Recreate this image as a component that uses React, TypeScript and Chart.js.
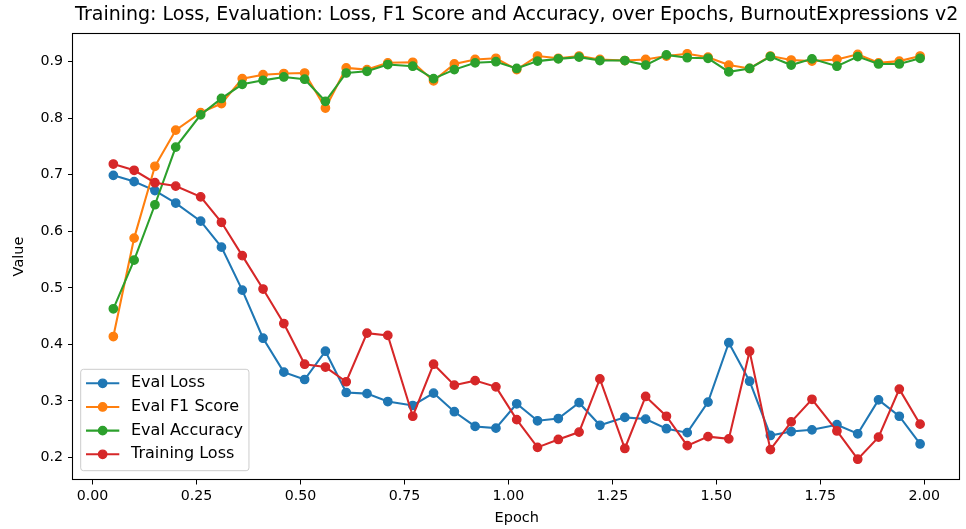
import React, { useEffect, useRef } from "react";
import { Chart, registerables } from "chart.js";

Chart.register(...registerables);

const titleText =
  "Training: Loss, Evaluation: Loss, F1 Score and Accuracy, over Epochs, BurnoutExpressions v2";
const xAxisLabel = "Epoch";
const yAxisLabel = "Value";

const epochs = [
  0.05, 0.1, 0.15, 0.2, 0.26, 0.31, 0.36, 0.41, 0.46, 0.51, 0.56, 0.61, 0.66,
  0.71, 0.77, 0.82, 0.87, 0.92, 0.97, 1.02, 1.07, 1.12, 1.17, 1.22, 1.28, 1.33,
  1.38, 1.43, 1.48, 1.53, 1.58, 1.63, 1.68, 1.73, 1.79, 1.84, 1.89, 1.94, 1.99,
];

const evalLoss = [
  0.699, 0.688, 0.672, 0.65, 0.618, 0.572, 0.496, 0.411, 0.351, 0.338, 0.388,
  0.315, 0.313, 0.299, 0.292, 0.314, 0.281, 0.255, 0.252, 0.295, 0.265, 0.269,
  0.297, 0.257, 0.271, 0.268, 0.251, 0.244, 0.298, 0.403, 0.335, 0.239, 0.246,
  0.249, 0.258, 0.242, 0.302, 0.273, 0.224,
];

const evalF1 = [
  0.414, 0.588, 0.715, 0.779, 0.81, 0.826, 0.87, 0.877, 0.879, 0.88, 0.818,
  0.889, 0.886, 0.898, 0.899, 0.866, 0.896, 0.904, 0.906, 0.886, 0.91, 0.906,
  0.91, 0.904, 0.902, 0.904, 0.91, 0.914, 0.908, 0.894, 0.888, 0.91, 0.903,
  0.901, 0.904, 0.913, 0.898, 0.901, 0.91,
];

const evalAccuracy = [
  0.463, 0.549, 0.647, 0.749, 0.806, 0.835, 0.86, 0.867, 0.873, 0.869, 0.83,
  0.88, 0.883, 0.895, 0.892, 0.87, 0.886, 0.898, 0.9, 0.888, 0.901, 0.905,
  0.908, 0.902, 0.902, 0.894, 0.912, 0.907, 0.906, 0.882, 0.888, 0.909, 0.894,
  0.905, 0.892, 0.909, 0.896, 0.896, 0.906,
];

const trainingLoss = [
  0.719, 0.708, 0.686, 0.68, 0.661, 0.616, 0.557, 0.498, 0.437, 0.365, 0.36,
  0.334, 0.42, 0.416, 0.273, 0.365, 0.328, 0.336, 0.325, 0.267, 0.218, 0.232,
  0.245, 0.339, 0.216, 0.308, 0.273, 0.221, 0.237, 0.233, 0.388, 0.214, 0.263,
  0.303, 0.247, 0.197, 0.236, 0.321, 0.259,
];

const seriesLabels = ["Eval Loss", "Eval F1 Score", "Eval Accuracy", "Training Loss"];
const seriesColors = ["#1f77b4", "#ff7f0e", "#2ca02c", "#d62728"];

const xTicks = [0, 0.25, 0.5, 0.75, 1.0, 1.25, 1.5, 1.75, 2.0];
const yTicks = [0.2, 0.3, 0.4, 0.5, 0.6, 0.7, 0.8, 0.9];

const FONT = "DejaVu Sans";
const TICK_SIZE = 14.2;
const LABEL_SIZE = 14.5;
const LEGEND_SIZE = 16;
const TITLE_SIZE = 19;
const LINE_W = 2.08;
const MARKER_R = 4.17;
const MARKER_EDGE = 1.39;

const framePlugin = {
  id: "mplFrame",
  afterDatasetsDraw(chart: any) {
    const { ctx, chartArea } = chart;
    const l = Math.round(chartArea.left) - 0.5;
    const t = Math.round(chartArea.top) - 0.5;
    const r = Math.round(chartArea.right) - 0.5;
    const b = Math.round(chartArea.bottom) - 0.5;
    ctx.save();
    ctx.strokeStyle = "#000";
    ctx.lineWidth = 1.1;
    ctx.strokeRect(l, t, r - l, b - t);
    ctx.restore();
  },
};

const legendPlugin = {
  id: "mplLegend",
  afterDraw(chart: any) {
    const { ctx, chartArea } = chart;
    const ds = chart.data.datasets;
    ctx.save();
    ctx.font = `${LEGEND_SIZE}px "${FONT}"`;
    let maxW = 0;
    ds.forEach((d: any) => {
      maxW = Math.max(maxW, ctx.measureText(d.label).width);
    });
    const rowPitch = 23.67;
    const boxH = 101.4;
    const boxX = chartArea.left + 7.7;
    const boxY = chartArea.bottom - 8.8 - boxH;
    const handleX0 = boxX + 5.3;
    const handleX1 = handleX0 + 33.3;
    const textX = boxX + 50.3;
    const boxW = textX - boxX + maxW + 6;
    const rad = 2.8;
    ctx.beginPath();
    ctx.moveTo(boxX + rad, boxY);
    ctx.lineTo(boxX + boxW - rad, boxY);
    ctx.quadraticCurveTo(boxX + boxW, boxY, boxX + boxW, boxY + rad);
    ctx.lineTo(boxX + boxW, boxY + boxH - rad);
    ctx.quadraticCurveTo(boxX + boxW, boxY + boxH, boxX + boxW - rad, boxY + boxH);
    ctx.lineTo(boxX + rad, boxY + boxH);
    ctx.quadraticCurveTo(boxX, boxY + boxH, boxX, boxY + boxH - rad);
    ctx.lineTo(boxX, boxY + rad);
    ctx.quadraticCurveTo(boxX, boxY, boxX + rad, boxY);
    ctx.closePath();
    ctx.fillStyle = "rgba(255,255,255,0.8)";
    ctx.fill();
    ctx.strokeStyle = "#cccccc";
    ctx.lineWidth = 1;
    ctx.stroke();

    ds.forEach((d: any, i: number) => {
      const cy = boxY + 14 + i * rowPitch;
      ctx.strokeStyle = d.borderColor;
      ctx.lineWidth = LINE_W;
      ctx.beginPath();
      ctx.moveTo(handleX0, cy);
      ctx.lineTo(handleX1, cy);
      ctx.stroke();
      ctx.beginPath();
      ctx.arc((handleX0 + handleX1) / 2, cy, MARKER_R, 0, Math.PI * 2);
      ctx.fillStyle = d.borderColor;
      ctx.fill();
      ctx.lineWidth = MARKER_EDGE;
      ctx.stroke();
      ctx.fillStyle = "#000";
      ctx.textAlign = "left";
      ctx.textBaseline = "middle";
      ctx.fillText(d.label, textX, cy);
    });
    ctx.restore();
  },
};

export default function App() {
  const ref = useRef<HTMLCanvasElement>(null);

  useEffect(() => {
    document.body.style.margin = "0";
    const canvas = ref.current;
    if (!canvas) return;

    const series = [evalLoss, evalF1, evalAccuracy, trainingLoss];
    const xMinD = Math.min(...epochs);
    const xMaxD = Math.max(...epochs);
    const xPad = (xMaxD - xMinD) * 0.05;
    const allY = series.flat();
    const yMinD = Math.min(...allY);
    const yMaxD = Math.max(...allY);
    const yPad = (yMaxD - yMinD) * 0.05;

    const datasets = series.map((vals, i) => ({
      label: seriesLabels[i],
      data: epochs.map((x, j) => ({ x, y: vals[j] })),
      borderColor: seriesColors[i],
      backgroundColor: seriesColors[i],
      pointBackgroundColor: seriesColors[i],
      pointBorderColor: seriesColors[i],
      borderWidth: LINE_W,
      pointRadius: MARKER_R,
      pointHoverRadius: MARKER_R,
      pointBorderWidth: MARKER_EDGE,
      tension: 0,
      fill: false,
      order: series.length - 1 - i,
    }));

    const chart = new Chart(canvas, {
      type: "line",
      data: { datasets },
      plugins: [framePlugin, legendPlugin],
      options: {
        animation: false,
        responsive: false,
        events: [],
        layout: { padding: { left: 0, right: 2, top: 0, bottom: 0 } },
        plugins: {
          legend: { display: false },
          tooltip: { enabled: false },
          title: {
            display: true,
            fullSize: false,
            text: titleText,
            color: "#000",
            font: { family: FONT, size: TITLE_SIZE, weight: "normal", lineHeight: 1.2 },
            padding: { top: 3.7, bottom: 7.0 },
          },
        },
        scales: {
          x: {
            type: "linear",
            min: xMinD - xPad,
            max: xMaxD + xPad,
            afterBuildTicks: (scale: any) => {
              scale.ticks = xTicks.map((v) => ({ value: v }));
            },
            afterFit: (scale: any) => {
              scale.height = 49.5;
            },
            ticks: {
              color: "#000",
              font: { family: FONT, size: TICK_SIZE },
              padding: 3.5,
              maxRotation: 0,
              autoSkip: false,
              callback: (v: any) => Number(v).toFixed(2),
            },
            grid: {
              display: true,
              drawOnChartArea: false,
              drawTicks: true,
              tickLength: 5,
              color: "#000",
              lineWidth: 1,
            },
            border: { display: false },
            title: {
              display: true,
              text: xAxisLabel,
              color: "#000",
              font: { family: FONT, size: LABEL_SIZE },
              padding: { top: 0, bottom: 2.5 },
            },
          },
          y: {
            type: "linear",
            min: yMinD - yPad,
            max: yMaxD + yPad,
            afterBuildTicks: (scale: any) => {
              scale.ticks = yTicks.map((v) => ({ value: v }));
            },
            afterFit: (scale: any) => {
              scale.width = 73;
            },
            ticks: {
              color: "#000",
              font: { family: FONT, size: TICK_SIZE },
              padding: 5,
              autoSkip: false,
              callback: (v: any) => Number(v).toFixed(1),
            },
            grid: {
              display: true,
              drawOnChartArea: false,
              drawTicks: true,
              tickLength: 5,
              color: "#000",
              lineWidth: 1,
            },
            border: { display: false },
            title: {
              display: true,
              text: yAxisLabel,
              color: "#000",
              font: { family: FONT, size: LABEL_SIZE },
              padding: { top: 11, bottom: 0 },
            },
          },
        },
      },
    } as any);

    return () => chart.destroy();
  }, []);

  return (
    <div style={{ width: 966, height: 529 }}>
      <canvas ref={ref} width={966} height={529} style={{ display: "block" }} />
    </div>
  );
}
